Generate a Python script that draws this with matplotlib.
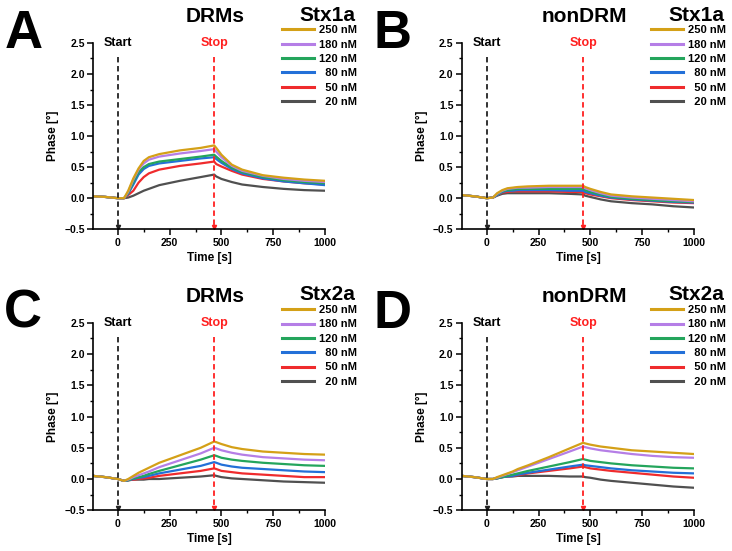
import matplotlib
matplotlib.use("Agg")
import matplotlib.pyplot as plt
from matplotlib.ticker import MultipleLocator, AutoMinorLocator

plt.rcParams['font.family'] = ['Liberation Sans', 'DejaVu Sans']
plt.rcParams['font.weight'] = 'bold'

# time grid shared by all traces (s)
time_s = [-120, -60, 0, 30, 50, 75, 100, 125, 150, 200, 300, 400, 465,
          475, 500, 550, 600, 700, 800, 900, 1000]

conc_labels = ["250 nM", "180 nM", "120 nM", "\u200780 nM", "\u200750 nM", "\u200720 nM"]
conc_colors = ["#D4A017", "#B57EE6", "#24A55C", "#2370D8", "#EF2B2D", "#505050"]

# A: DRMs, Stx1a
drm_stx1a = [
    [0.03, 0.02, 0.0, 0.0, 0.12, 0.32, 0.48, 0.60, 0.66, 0.71, 0.77, 0.81, 0.85,
     0.81, 0.70, 0.54, 0.46, 0.37, 0.33, 0.30, 0.28],
    [0.03, 0.02, 0.0, 0.0, 0.10, 0.30, 0.46, 0.56, 0.62, 0.67, 0.72, 0.76, 0.79,
     0.75, 0.66, 0.52, 0.44, 0.36, 0.31, 0.28, 0.26],
    [0.03, 0.02, 0.0, 0.0, 0.08, 0.26, 0.42, 0.50, 0.55, 0.59, 0.63, 0.67, 0.70,
     0.67, 0.60, 0.49, 0.42, 0.34, 0.29, 0.26, 0.24],
    [0.03, 0.02, 0.0, 0.0, 0.07, 0.22, 0.38, 0.47, 0.52, 0.56, 0.60, 0.64, 0.66,
     0.63, 0.57, 0.47, 0.40, 0.32, 0.27, 0.24, 0.21],
    [0.03, 0.02, 0.0, 0.0, 0.05, 0.12, 0.25, 0.34, 0.40, 0.46, 0.52, 0.56, 0.59,
     0.55, 0.51, 0.44, 0.38, 0.31, 0.27, 0.24, 0.22],
    [0.03, 0.02, 0.0, 0.0, 0.01, 0.04, 0.08, 0.12, 0.15, 0.21, 0.28, 0.34, 0.38,
     0.35, 0.31, 0.26, 0.22, 0.18, 0.15, 0.13, 0.12],
]

# B: nonDRM, Stx1a
nondrm_stx1a = [
    [0.05, 0.03, 0.0, 0.01, 0.08, 0.13, 0.16, 0.17, 0.18, 0.19, 0.20, 0.20, 0.20,
     0.18, 0.15, 0.10, 0.06, 0.03, 0.01, -0.01, -0.03],
    [0.05, 0.03, 0.0, 0.01, 0.07, 0.12, 0.15, 0.16, 0.17, 0.17, 0.18, 0.18, 0.18,
     0.16, 0.13, 0.08, 0.04, 0.01, -0.01, -0.03, -0.05],
    [0.05, 0.03, 0.0, 0.01, 0.06, 0.11, 0.13, 0.14, 0.15, 0.15, 0.15, 0.15, 0.15,
     0.13, 0.10, 0.06, 0.02, -0.01, -0.03, -0.05, -0.06],
    [0.05, 0.03, 0.0, 0.01, 0.05, 0.10, 0.12, 0.12, 0.13, 0.13, 0.13, 0.12, 0.12,
     0.10, 0.08, 0.04, 0.01, -0.02, -0.04, -0.06, -0.07],
    [0.05, 0.03, 0.0, 0.01, 0.05, 0.09, 0.10, 0.11, 0.11, 0.11, 0.11, 0.10, 0.10,
     0.08, 0.06, 0.03, 0.00, -0.03, -0.05, -0.07, -0.08],
    [0.05, 0.03, 0.0, 0.01, 0.04, 0.07, 0.08, 0.08, 0.08, 0.08, 0.08, 0.07, 0.06,
     0.04, 0.02, -0.02, -0.05, -0.08, -0.10, -0.13, -0.15],
]

# C: DRMs, Stx2a
drm_stx2a = [
    [0.05, 0.03, 0.0, -0.03, 0.0, 0.05, 0.10, 0.14, 0.18, 0.26, 0.38, 0.50, 0.60,
     0.59, 0.56, 0.51, 0.48, 0.44, 0.42, 0.40, 0.39],
    [0.05, 0.03, 0.0, -0.03, -0.01, 0.03, 0.06, 0.09, 0.12, 0.19, 0.30, 0.41, 0.50,
     0.49, 0.46, 0.42, 0.39, 0.35, 0.33, 0.31, 0.30],
    [0.05, 0.03, 0.0, -0.03, -0.02, 0.01, 0.03, 0.05, 0.08, 0.13, 0.22, 0.31, 0.38,
     0.37, 0.34, 0.31, 0.29, 0.26, 0.24, 0.22, 0.21],
    [0.05, 0.03, 0.0, -0.03, -0.02, 0.0, 0.02, 0.03, 0.05, 0.09, 0.15, 0.21, 0.27,
     0.26, 0.23, 0.20, 0.18, 0.16, 0.14, 0.12, 0.11],
    [0.05, 0.03, 0.0, -0.03, -0.02, -0.01, 0.0, 0.01, 0.02, 0.05, 0.09, 0.13, 0.17,
     0.16, 0.13, 0.11, 0.09, 0.07, 0.05, 0.03, 0.03],
    [0.05, 0.03, 0.0, -0.03, -0.02, -0.01, -0.01, -0.01, 0.0, 0.0, 0.02, 0.04, 0.06,
     0.05, 0.03, 0.01, 0.0, -0.02, -0.04, -0.05, -0.06],
]

# D: nonDRM, Stx2a
nondrm_stx2a = [
    [0.05, 0.03, 0.0, 0.0, 0.03, 0.06, 0.09, 0.12, 0.16, 0.22, 0.35, 0.49, 0.58,
     0.57, 0.55, 0.52, 0.50, 0.46, 0.44, 0.42, 0.40],
    [0.05, 0.03, 0.0, 0.0, 0.02, 0.05, 0.08, 0.11, 0.14, 0.20, 0.32, 0.44, 0.52,
     0.51, 0.49, 0.46, 0.44, 0.40, 0.37, 0.35, 0.34],
    [0.05, 0.03, 0.0, 0.0, 0.01, 0.03, 0.05, 0.07, 0.09, 0.13, 0.20, 0.27, 0.32,
     0.31, 0.29, 0.27, 0.25, 0.22, 0.20, 0.18, 0.17],
    [0.05, 0.03, 0.0, 0.0, 0.01, 0.03, 0.04, 0.05, 0.07, 0.10, 0.15, 0.20, 0.23,
     0.22, 0.21, 0.19, 0.17, 0.14, 0.12, 0.10, 0.09],
    [0.05, 0.03, 0.0, 0.0, 0.01, 0.03, 0.04, 0.05, 0.06, 0.09, 0.13, 0.17, 0.20,
     0.19, 0.17, 0.15, 0.13, 0.10, 0.07, 0.04, 0.02],
    [0.05, 0.03, 0.0, 0.0, 0.02, 0.03, 0.04, 0.04, 0.05, 0.05, 0.05, 0.04, 0.04,
     0.03, 0.02, -0.01, -0.03, -0.06, -0.09, -0.12, -0.14],
]

start_t = 0
stop_t = 465

panels = [
    ("A", "DRMs", "Stx1a", drm_stx1a, [0.127, 0.584, 0.317, 0.338]),
    ("B", "nonDRM", "Stx1a", nondrm_stx1a, [0.631, 0.584, 0.317, 0.338]),
    ("C", "DRMs", "Stx2a", drm_stx2a, [0.127, 0.074, 0.317, 0.340]),
    ("D", "nonDRM", "Stx2a", nondrm_stx2a, [0.631, 0.074, 0.317, 0.340]),
]


def draw_panel(fig, letter, sample, toxin, traces, rect):
    ax = fig.add_axes(rect)
    lines = []
    # draw lowest concentration first so 250 nM ends up on top
    for vals, col, lab in reversed(list(zip(traces, conc_colors, conc_labels))):
        ln, = ax.plot(time_s, vals, color=col, lw=1.6, label=lab)
        lines.append(ln)
    lines = lines[::-1]

    # start / stop markers
    ax.plot([start_t, start_t], [2.27, -0.47], color="#222222", lw=1.3, ls=(0, (3, 2)))
    ax.plot([stop_t, stop_t], [2.27, -0.47], color="#FF2020", lw=1.3, ls=(0, (3, 2)))
    ax.plot([start_t], [-0.47], marker="v", ms=3, color="#222222")
    ax.plot([stop_t], [-0.47], marker="v", ms=3, color="#FF2020")
    ax.text(start_t, 2.5, "Start", ha="center", va="center", fontsize=9, fontweight="bold")
    ax.text(stop_t, 2.5, "Stop", ha="center", va="center", fontsize=9,
            fontweight="bold", color="#FF2020")

    ax.set_xlim(-120, 1000)
    ax.set_ylim(-0.5, 2.5)
    ax.xaxis.set_major_locator(MultipleLocator(250))
    ax.yaxis.set_major_locator(MultipleLocator(0.5))
    ax.xaxis.set_minor_locator(AutoMinorLocator(2))
    ax.yaxis.set_minor_locator(AutoMinorLocator(2))
    ax.tick_params(which="major", direction="out", length=4, width=1.1, labelsize=7.5, pad=2)
    ax.tick_params(which="minor", direction="out", length=2, width=1.0)
    for lbl in ax.get_xticklabels() + ax.get_yticklabels():
        lbl.set_fontweight("bold")
    ax.spines["top"].set_visible(False)
    ax.spines["right"].set_visible(False)
    ax.spines["left"].set_linewidth(1.2)
    ax.spines["bottom"].set_linewidth(1.2)

    ax.set_xlabel("Time [s]", fontsize=8.5, fontweight="bold", labelpad=3)
    ax.set_ylabel("Phase [°]", fontsize=8.5, fontweight="bold", labelpad=4)

    ax.text(0.526, 1.14, sample, transform=ax.transAxes, ha="center", va="center",
            fontsize=15, fontweight="bold")
    ax.text(1.009, 1.15, toxin, transform=ax.transAxes, ha="center", va="center",
            fontsize=15, fontweight="bold")
    ax.text(-0.30, 1.05, letter, transform=ax.transAxes, ha="center", va="center",
            fontsize=38, fontweight="bold")

    leg = ax.legend(handles=lines, loc="upper right", bbox_to_anchor=(1.14, 1.095),
                    frameon=False, fontsize=8, handlelength=2.9, handletextpad=0.5,
                    labelspacing=0.39, borderpad=0, borderaxespad=0)
    for ln in leg.get_lines():
        ln.set_linewidth(2.2)
    for t in leg.get_texts():
        t.set_fontweight("bold")
    return ax


fig = plt.figure(figsize=(7.32, 5.51), dpi=100)
for letter, sample, toxin, traces, rect in panels:
    draw_panel(fig, letter, sample, toxin, traces, rect)

fig.savefig("out.png", dpi=100)
